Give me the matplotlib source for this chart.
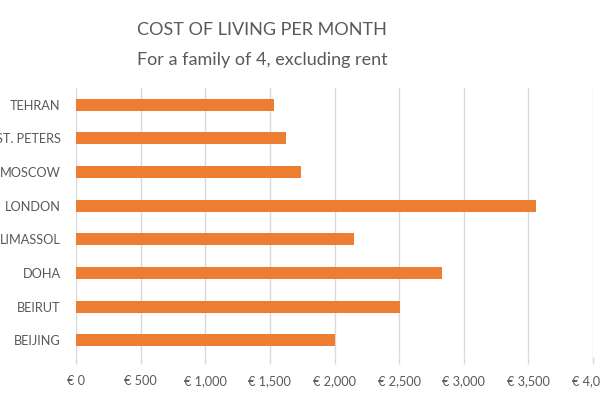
import matplotlib.pyplot as plt
from matplotlib.ticker import FuncFormatter, MultipleLocator

plt.rcParams['font.family'] = ['Lato', 'DejaVu Sans']

cities = ['BEIJING', 'BEIRUT', 'DOHA', 'LIMASSOL', 'LONDON', 'MOSCOW', 'ST. PETERS', 'TEHRAN']
costs = [2000, 2505, 2828, 2152, 3558, 1741, 1625, 1532]

bar_color = '#ED7D31'
text_color = '#595959'
grid_color = '#D9D9D9'

fig = plt.figure(figsize=(6, 4), dpi=100)
ax = fig.add_axes([76 / 600, 1 - 357 / 400, (593 - 76) / 600, (357 - 88) / 400])

ax.barh(range(len(cities)), costs, height=0.36, color=bar_color, zorder=3)
ax.set_yticks(range(len(cities)))
ax.set_yticklabels(cities)
ax.set_ylim(-0.5, len(cities) - 0.5)
ax.set_xlim(0, 4000)
ax.xaxis.set_major_locator(MultipleLocator(500))
ax.xaxis.set_major_formatter(FuncFormatter(lambda v, p: '€ {:,.0f}'.format(v)))

ax.grid(axis='x', color=grid_color, linewidth=1, zorder=0)
for s in ax.spines.values():
  s.set_visible(False)

ax.tick_params(axis='y', length=0, pad=11, labelsize=9.2, labelcolor=text_color)
ax.tick_params(axis='x', length=5, width=1, color=grid_color, pad=8, labelsize=9.2, labelcolor=text_color)

fig.text(262 / 600, 1 - 30 / 400, 'COST OF LIVING PER MONTH', ha='center', va='center', fontsize=13, color=text_color)
fig.text(262 / 600, 1 - 60 / 400, 'For a family of 4, excluding rent', ha='center', va='center', fontsize=13, color=text_color)

fig.savefig('out.png', dpi=100)
